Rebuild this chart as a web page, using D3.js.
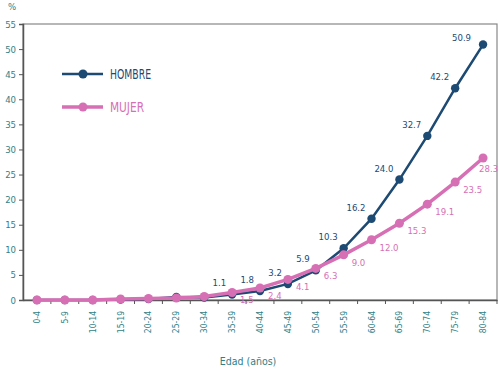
<!DOCTYPE html>
<html><head><meta charset="utf-8">
<script src="https://cdn.jsdelivr.net/npm/d3@7"></script>
<style>body{margin:0;background:#fff}svg{display:block}</style>
</head><body>
<script>
const categories = ["0-4","5-9","10-14","15-19","20-24","25-29","30-34","35-39","40-44","45-49","50-54","55-59","60-64","65-69","70-74","75-79","80-84"];
const hombre = [0,0,0,0.1,0.2,0.6,0.5,1.1,1.8,3.2,5.9,10.3,16.2,24.0,32.7,42.2,50.9];
const mujer  = [0,0,0,0.2,0.3,0.4,0.7,1.5,2.4,4.1,6.3,9.0,12.0,15.3,19.1,23.5,28.3];
const hombreLabels = ["","","","","","","","1.1","1.8","3.2","5.9","10.3","16.2","24.0","32.7","42.2","50.9"];
const mujerLabels  = ["","","","","","","","1.5","2.4","4.1","6.3","9.0","12.0","15.3","19.1","23.5","28.3"];
const yTicks = [0,5,10,15,20,25,30,35,40,45,50,55];
const seriesNames = ["HOMBRE","MUJER"];

const W=500,H=372;
const m={l:23,r:3,t:24,b:72};
const svg=d3.select("body").append("svg").attr("width",W).attr("height",H);
const font="'DejaVu Sans Condensed','DejaVu Sans',sans-serif";
const teal="#2f7f88", navy="#1d4a73", pink="#d76fb5";

const x=d3.scaleBand().domain(categories).range([m.l,W-m.r]);
const y=d3.scaleLinear().domain([0,55]).range([H-m.b,m.t]);
const cx=c=>x(c)+x.bandwidth()/2;

svg.append("rect").attr("x",m.l).attr("y",m.t).attr("width",W-m.r-m.l).attr("height",H-m.b-m.t)
  .attr("fill","none").attr("stroke","#888").attr("stroke-width",1.2);

const ya=svg.append("g").attr("transform",`translate(${m.l},0)`)
  .call(d3.axisLeft(y).tickValues(yTicks).tickSize(4).tickPadding(3));
ya.select(".domain").attr("stroke","#555").attr("stroke-width",1.5);
ya.selectAll(".tick line").attr("stroke","#555");
ya.selectAll("text").attr("fill",teal).style("font-family",font).style("font-size","9.5px");

const xa=svg.append("g").attr("transform",`translate(0,${H-m.b})`)
  .call(d3.axisBottom(x).tickSize(0).tickPadding(0));
xa.select(".domain").attr("stroke","#555").attr("stroke-width",1.5);
xa.selectAll("text").attr("fill",teal).style("font-family",font).style("font-size","8.5px")
  .attr("text-anchor","end").attr("transform","rotate(-90)").attr("x",-11).attr("y",0).attr("dy","0.35em");
svg.append("g").selectAll("line").data(categories).join("line")
  .attr("x1",(d,i)=>m.l+x.step()*(i+1)).attr("x2",(d,i)=>m.l+x.step()*(i+1))
  .attr("y1",H-m.b).attr("y2",H-m.b+4).attr("stroke","#555");

svg.append("text").attr("x",12).attr("y",10).attr("text-anchor","middle").attr("fill",teal)
  .style("font-family",font).style("font-size","9.5px").text("%");
svg.append("text").attr("x",248).attr("y",365).attr("text-anchor","middle").attr("fill",teal)
  .style("font-family",font).style("font-size","10.5px").text("Edad (años)");

const line=d3.line().x((d,i)=>cx(categories[i])).y(d=>y(d));
function drawSeries(vals,color,w,r){
  svg.append("path").datum(vals).attr("d",line).attr("fill","none").attr("stroke",color).attr("stroke-width",w);
  svg.append("g").selectAll("circle").data(vals).join("circle")
    .attr("cx",(d,i)=>cx(categories[i])).attr("cy",d=>y(d)).attr("r",r).attr("fill",color);
}
drawSeries(hombre,navy,2.5,4.2);
drawSeries(mujer,pink,3.5,4.5);

const last=categories.length-1;
svg.append("g").selectAll("text").data(hombreLabels).join("text")
  .attr("x",(d,i)=>cx(categories[i])-(i===last?12:6)).attr("y",(d,i)=>y(hombre[i])-(i===last?4:8))
  .attr("text-anchor","end").attr("fill",navy).style("font-family",font).style("font-size","9.5px").text(d=>d);
svg.append("g").selectAll("text").data(mujerLabels).join("text")
  .attr("x",(d,i)=>i===last?cx(categories[i])-4:cx(categories[i])+8)
  .attr("y",(d,i)=>y(mujer[i])+(i===last?14:11))
  .attr("text-anchor","start").attr("fill",pink).style("font-family",font).style("font-size","9.5px").text(d=>d);

const leg=[{n:seriesNames[0],c:navy,w:2.5,y:74,len:41},{n:seriesNames[1],c:pink,w:3.5,y:107,len:34}];
leg.forEach(l=>{
  svg.append("line").attr("x1",62).attr("x2",103).attr("y1",l.y).attr("y2",l.y).attr("stroke",l.c).attr("stroke-width",l.w);
  svg.append("circle").attr("cx",83).attr("cy",l.y).attr("r",4.5).attr("fill",l.c);
  svg.append("text").attr("x",110).attr("y",l.y).attr("dy","0.36em").attr("fill",l.c)
    .attr("textLength",l.len).attr("lengthAdjust","spacingAndGlyphs")
    .style("font-family",font).style("font-size","14px").text(l.n);
});
</script>
</body></html>
